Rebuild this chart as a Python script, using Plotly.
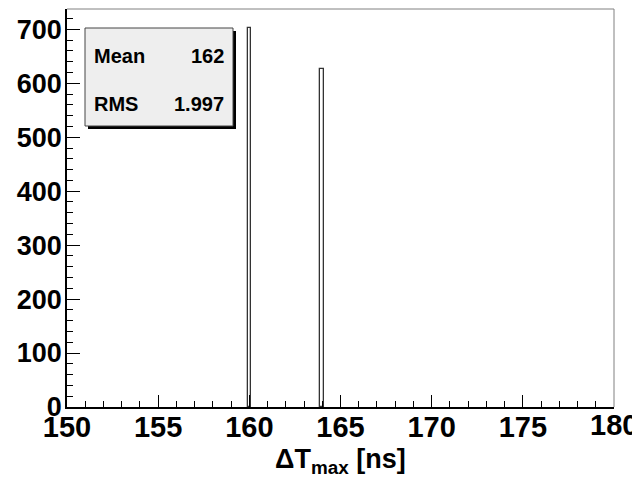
import plotly.graph_objects as go

# Data
bin_centers = [160.0, 164.0]
counts = [702, 626]
bin_width = 0.2
stat_names = ["Mean", "RMS"]
stat_values = ["162", "1.997"]
x_range = [150, 180]
y_range = [0, 737.6]
x_title = "ΔT<sub>max</sub> [ns]"
last_x_label = 180

W, H = 632, 481
L, R, T, B = 67, 18, 9, 74
pw, ph = W - L - R, H - T - B

def px_x(p):
    return (p - L) / pw

def px_y(p):
    return (H - B - p) / ph

FONT = "Liberation Sans, Arial, Helvetica, sans-serif"

fig = go.Figure()
fig.add_trace(go.Bar(
    x=bin_centers, y=counts, width=bin_width,
    marker=dict(color="white", line=dict(color="#333333", width=1.3)),
    showlegend=False, hoverinfo="x+y",
))

shapes = [
    # top and right frame (gray)
    dict(type="line", xref="paper", yref="paper", x0=0, x1=1, y0=1, y1=1,
         line=dict(color="#808080", width=1)),
    dict(type="line", xref="paper", yref="paper", x0=1, x1=1, y0=0, y1=1,
         line=dict(color="#808080", width=1)),
    # stats box shadow
    dict(type="rect", xref="paper", yref="paper",
         x0=px_x(88), x1=px_x(236), y0=px_y(129), y1=px_y(31),
         fillcolor="black", line=dict(width=0), layer="above"),
    # stats box
    dict(type="rect", xref="paper", yref="paper",
         x0=px_x(85), x1=px_x(233), y0=px_y(126), y1=px_y(28),
         fillcolor="#eeeeee", line=dict(color="#444444", width=1), layer="above"),
]

annotations = []
ys = [55.5, 104]
for name, val, yy in zip(stat_names, stat_values, ys):
    annotations.append(dict(xref="paper", yref="paper", x=px_x(92), y=px_y(yy),
                            text=f"<b>{name}</b>", showarrow=False,
                            xanchor="left", yanchor="middle",
                            font=dict(family=FONT, size=20, color="black")))
    annotations.append(dict(xref="paper", yref="paper", x=px_x(226), y=px_y(yy),
                            text=f"<b>{val}</b>", showarrow=False,
                            xanchor="right", yanchor="middle",
                            font=dict(family=FONT, size=20, color="black")))

# last x tick label (partly outside the page, as in the reference)
annotations.append(dict(xref="x", yref="paper", x=last_x_label, y=px_y(425),
                        text=f"<b>{last_x_label}</b>", showarrow=False,
                        xanchor="center", yanchor="middle",
                        font=dict(family=FONT, size=29, color="black")))

annotations.append(dict(xref="paper", yref="paper", x=0.5, y=px_y(461),
                        text=f"<b>{x_title}</b>", showarrow=False,
                        xanchor="center", yanchor="middle",
                        font=dict(family=FONT, size=27, color="black")))

fig.update_layout(
    width=W, height=H,
    margin=dict(l=L, r=R, t=T, b=B, autoexpand=False),
    paper_bgcolor="white", plot_bgcolor="white",
    shapes=shapes, annotations=annotations,
    bargap=0,
    xaxis=dict(range=x_range, dtick=5, tick0=150, ticks="inside", ticklen=12,
               tickwidth=1, tickcolor="black", showline=True, linecolor="black",
               linewidth=1.5, showgrid=False, zeroline=False,
               ticklabelstandoff=-7,
               tickfont=dict(family=FONT, size=29, color="black", weight="bold"),
               minor=dict(dtick=1, ticks="inside", ticklen=6, tickcolor="black",
                          tickwidth=1, showgrid=False)),
    yaxis=dict(range=y_range, dtick=100, tick0=0, ticks="inside", ticklen=13,
               tickwidth=1, tickcolor="black", showline=True, linecolor="black",
               linewidth=1.5, showgrid=False, zeroline=False,
               ticklabelstandoff=-2,
               tickfont=dict(family=FONT, size=27, color="black", weight="bold"),
               minor=dict(dtick=20, ticks="inside", ticklen=6, tickcolor="black",
                          tickwidth=1, showgrid=False)),
)

fig.write_html("out.html", config={"displayModeBar": False},
               post_script="document.body.style.margin='0';document.body.style.overflow='hidden';")
